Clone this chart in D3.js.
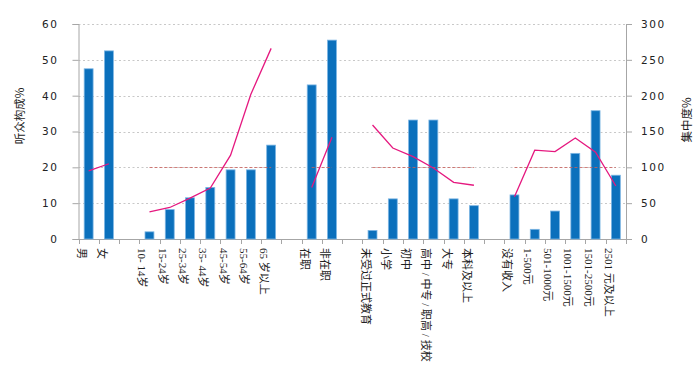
<!DOCTYPE html>
<html>
<head>
<meta charset="utf-8">
<script src="https://cdn.jsdelivr.net/npm/d3@7"></script>
<style>
  body { margin: 0; background: #fff; }
  .tick-num { font-family: "DejaVu Sans", sans-serif; font-size: 10.5px; letter-spacing: 1.6px; fill: #222; }
  .cat-label { font-family: "Liberation Serif", "Noto Sans CJK SC", serif; font-size: 11px; fill: #222; }
  .axis-title { font-family: "Noto Sans CJK SC", sans-serif; font-size: 11.5px; fill: #222; }
</style>
</head>
<body>
<svg id="chart" width="700" height="371"></svg>
<script>
// categories, empty strings are the gaps between groups
const categories = ["男", "女", "",
  "10- 14岁", "15-24岁", "25-34岁", "35- 44岁", "45-54岁", "55-64岁", "65 岁以上", "",
  "在职", "非在职", "",
  "未受过正式教育", "小学", "初中", "高中 / 中专 / 职高 / 技校", "大专", "本科及以上", "",
  "没有收入", "1-500元", "501-1000元", "1001-1500元", "1501-2500元", "2501 元及以上"];

// 听众构成% (left axis)
const share = [47.5, 52.5, null,
  2.0, 8.2, 11.5, 14.4, 19.3, 19.3, 26.2, null,
  43.0, 55.5, null,
  2.4, 11.2, 33.2, 33.2, 11.2, 9.3, null,
  12.3, 2.7, 7.8, 23.9, 35.8, 17.8];

// 集中度% (right axis)
const concentration = [95, 105, null,
  38, 44, 57, 71, 117, 202, 266, null,
  72, 142, null,
  159, 127, 115, 99, 79, 75, null,
  59, 124, 122, 141, 121, 74];

// groups that get the 100% reference line (first and last category)
const refGroups = [["10- 14岁", "65 岁以上"], ["在职", "非在职"],
  ["未受过正式教育", "本科及以上"], ["没有收入", "2501 元及以上"]];

const leftTicks = [0, 10, 20, 30, 40, 50, 60];
const rightTicks = [0, 50, 100, 150, 200, 250, 300];

const svg = d3.select('#chart');
const plotLeft = 78.5, plotRight = 626, plotTop = 24, plotBottom = 239;

const x = d3.scaleBand()
  .domain(d3.range(categories.length))
  .range([plotLeft, plotRight]);

const yL = d3.scaleLinear().domain([0, 60]).range([plotBottom, plotTop]);
const yR = d3.scaleLinear().domain([0, 300]).range([plotBottom, plotTop]);

// Grid lines
svg.append('g')
  .selectAll('line')
  .data(leftTicks.filter(d => d > 0))
  .enter().append('line')
  .attr('x1', plotLeft).attr('x2', plotRight)
  .attr('y1', d => Math.round(yL(d)) + 0.5)
  .attr('y2', d => Math.round(yL(d)) + 0.5)
  .attr('stroke', '#c8c8c8')
  .attr('stroke-dasharray', '2,2.5');

// Axes
const axisColor = '#a6a6a6';
const gL = svg.append('g')
  .attr('transform', `translate(${plotLeft},0)`)
  .call(d3.axisLeft(yL).tickValues(leftTicks).tickSize(6).tickPadding(14));
const gR = svg.append('g')
  .attr('transform', `translate(${plotRight},0)`)
  .call(d3.axisRight(yR).tickValues(rightTicks).tickSize(6).tickPadding(9));
[gL, gR].forEach(g => {
  g.attr('font-family', null).attr('font-size', null);
  g.select('.domain').attr('stroke', axisColor);
  g.selectAll('.tick line').attr('stroke', axisColor);
  g.selectAll('.tick text').attr('class', 'tick-num');
});

// x axis baseline and ticks at slot boundaries
svg.append('line')
  .attr('x1', plotLeft).attr('x2', plotRight)
  .attr('y1', plotBottom + 0.5).attr('y2', plotBottom + 0.5)
  .attr('stroke', axisColor);
svg.append('g')
  .selectAll('line')
  .data(d3.range(categories.length + 1))
  .enter().append('line')
  .attr('x1', d => Math.round(plotLeft + d * x.step()) + 0.5)
  .attr('x2', d => Math.round(plotLeft + d * x.step()) + 0.5)
  .attr('y1', plotBottom).attr('y2', plotBottom + 5)
  .attr('stroke', axisColor);

// Bars
const barW = x.bandwidth() * 0.44;
svg.append('g')
  .selectAll('rect')
  .data(share.map((v, i) => ({ v, i })).filter(d => d.v !== null))
  .enter().append('rect')
  .attr('x', d => x(d.i) + x.bandwidth() / 2 - barW / 2)
  .attr('y', d => yL(d.v))
  .attr('width', barW)
  .attr('height', d => plotBottom - yL(d.v))
  .attr('fill', '#0b70bc')
  .attr('stroke', '#7db6e4')
  .attr('stroke-width', 0.8);

// 100% reference lines
svg.append('g')
  .selectAll('line')
  .data(refGroups)
  .enter().append('line')
  .attr('x1', d => x(categories.indexOf(d[0])) + x.bandwidth() / 2)
  .attr('x2', d => x(categories.indexOf(d[1])) + x.bandwidth() / 2)
  .attr('y1', Math.round(yR(100)) + 0.5)
  .attr('y2', Math.round(yR(100)) + 0.5)
  .attr('stroke', '#c9605c')
  .attr('stroke-width', 0.8)
  .attr('stroke-dasharray', '3,2');

// Concentration lines, broken at the gaps
const line = d3.line()
  .defined(d => d.v !== null)
  .x(d => x(d.i) + x.bandwidth() / 2)
  .y(d => yR(d.v));
svg.append('path')
  .datum(concentration.map((v, i) => ({ v, i })))
  .attr('d', line)
  .attr('fill', 'none')
  .attr('stroke', '#e5187f')
  .attr('stroke-width', 1.3);

// Category labels, rotated
svg.append('g')
  .selectAll('text')
  .data(categories.map((c, i) => ({ c, i })).filter(d => d.c))
  .enter().append('text')
  .attr('class', 'cat-label')
  .attr('transform', d => `translate(${x(d.i) + x.bandwidth() / 2 - 11},${plotBottom + 9}) rotate(90)`)
  .text(d => d.c);

// Axis titles
svg.append('text')
  .attr('class', 'axis-title')
  .attr('transform', 'translate(24,116) rotate(-90)')
  .attr('text-anchor', 'middle')
  .text('听众构成%');
svg.append('text')
  .attr('class', 'axis-title')
  .attr('transform', 'translate(691,120) rotate(-90)')
  .attr('text-anchor', 'middle')
  .text('集中度%');
</script>
</body>
</html>
